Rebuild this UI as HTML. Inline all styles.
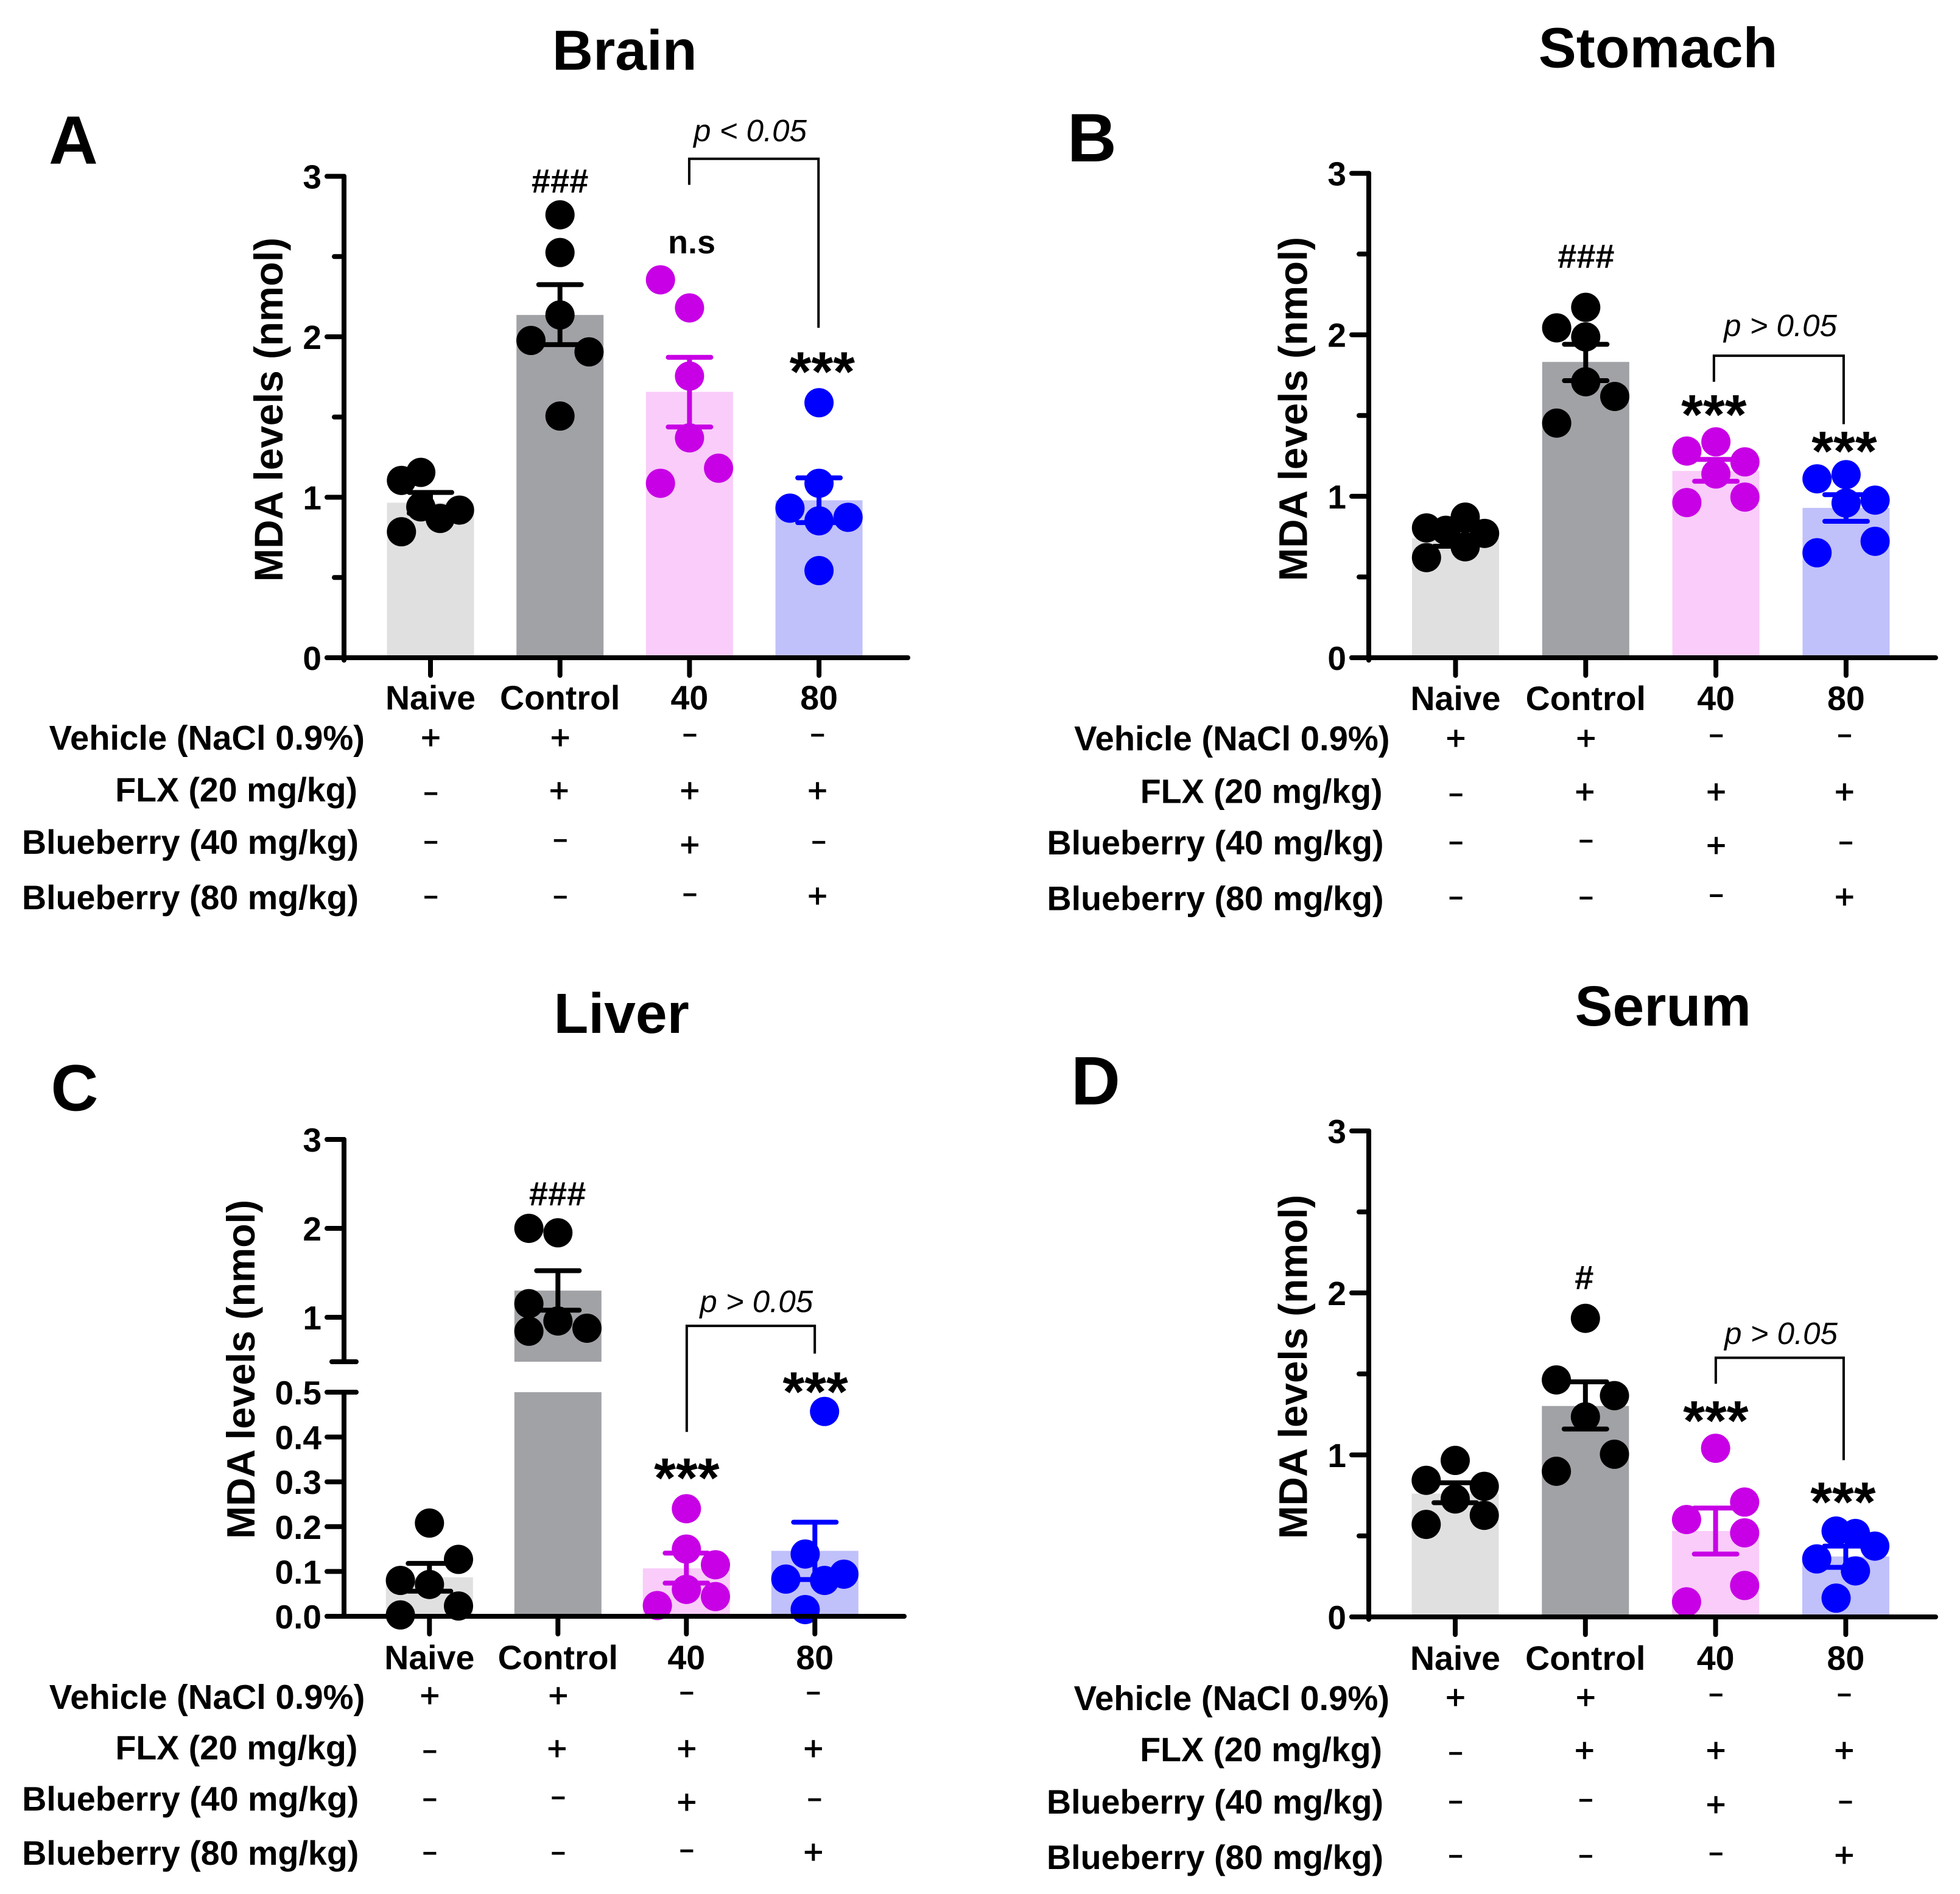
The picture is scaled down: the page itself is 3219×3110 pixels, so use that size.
<!DOCTYPE html>
<html lang="en">
<head>
<meta charset="utf-8">
<title>MDA levels by tissue</title>
<style>
html,body{margin:0;padding:0;background:#fff;}
svg{display:block;}
text{font-family:"Liberation Sans",Arial,sans-serif;fill:#000;}
</style>
</head>
<body>
<svg id="figure" xmlns="http://www.w3.org/2000/svg" width="3219" height="3110" viewBox="0 0 3219 3110"></svg>
<script>
// ---- shared categories and ticks ----
const categories = ['Naive', 'Control', '40', '80'];
const rowLabels = ['Vehicle (NaCl 0.9%)', 'FLX (20 mg/kg)', 'Blueberry (40 mg/kg)', 'Blueberry (80 mg/kg)'];
const vehicleSigns = ['+', '+', '-', '-'];
const flxSigns = ['-', '+', '+', '+'];
const blue40Signs = ['-', '-', '+', '-'];
const blue80Signs = ['-', '-', '-', '+'];
const stdMajorTicks = [0, 1, 2, 3];
const stdMinorTicks = [0.5, 1.5, 2.5];
const liverLowerTicks = [0, 0.1, 0.2, 0.3, 0.4, 0.5];
const liverLowerLabels = ['0.0', '0.1', '0.2', '0.3', '0.4', '0.5'];
const liverUpperTicks = [1, 2, 3];
const liverUpperLabels = ['1', '2', '3'];

// ---- Brain ----
const brainMeans = [0.966, 2.136, 1.657, 0.981];
const brainUpper = [1.03, 2.325, 1.872, 1.121];
const brainLower = [0.90, 1.951, 1.438, 0.842];
const brainNaive = [1.105, 1.155, 0.94, 0.868, 0.92, 0.785];
const brainControl = [2.76, 2.525, 2.136, 1.977, 1.906, 1.506];
const brain40 = [2.355, 2.18, 1.755, 1.37, 1.181, 1.087];
const brain80 = [1.589, 1.087, 0.932, 0.875, 0.853, 0.543];
const brainSlots = [[-3, -1, -1, 1, 3, -3], [0, 0, 0, -3, 3, 0], [-3, 0, 0, 0, 3, -3], [0, 0, -3, 3, 0, 0]];

// ---- Stomach ----
const stomachMeans = [0.74, 1.832, 1.157, 0.928];
const stomachUpper = [0.79, 1.941, 1.228, 1.01];
const stomachLower = [0.69, 1.716, 1.093, 0.845];
const stomachNaive = [0.804, 0.789, 0.871, 0.77, 0.687, 0.62];
const stomachControl = [2.17, 2.043, 1.987, 1.709, 1.618, 1.453];
const stomach40 = [1.337, 1.28, 1.213, 1.138, 0.961, 0.995];
const stomach80 = [1.134, 1.108, 0.976, 0.958, 0.721, 0.65];
const stomachSlots = [[-3, -1, 1, 3, 1, -3], [0, -3, 0, 0, 3, -3], [0, -3, 3, 0, -3, 3], [0, -3, 3, 0, 3, -3]];

// ---- Liver ----
const liverMeans = [0.087, 1.30, 0.107, 0.146];
const liverUpper = [0.118, 1.524, 0.141, 0.21];
const liverLower = [0.056, 1.08, 0.074, 0.082];
const liverNaive = [0.208, 0.127, 0.08, 0.071, 0.023, 0.003];
const liverControl = [2.0, 1.95, 1.153, 0.958, 0.843, 0.877];
const liver40 = [0.24, 0.15, 0.115, 0.06, 0.044, 0.024];
const liver80 = [0.457, 0.139, 0.094, 0.08, 0.083, 0.015];
const liverSlots = [[0, 3, -3, 0, 3, -3], [-3, 0, -3, 0, -3, 3], [0, 0, 3, 0, 3, -3], [1, -1, 3, 1, -3, -1]];

// ---- Serum ----
const serumMeans = [0.761, 1.302, 0.53, 0.373];
const serumUpper = [0.828, 1.451, 0.672, 0.437];
const serumLower = [0.705, 1.16, 0.388, 0.306];
const serumNaive = [0.966, 0.843, 0.806, 0.728, 0.627, 0.571];
const serumControl = [1.843, 1.463, 1.366, 1.235, 1.004, 0.899];
const serum40 = [1.041, 0.709, 0.601, 0.519, 0.194, 0.093];
const serum80 = [0.53, 0.515, 0.437, 0.358, 0.284, 0.116];
const serumSlots = [[0, -3, 3, 0, 3, -3], [0, -3, 3, 0, 3, -3], [0, 3, -3, 3, 3, -3], [-1, 1, 3, -3, 1, -1]];

const signTable = [vehicleSigns, flxSigns, blue40Signs, blue80Signs];
const signNudge = [[0, 0, -4, -4], [5, 0, 0, 0], [0, -3, 4, 0], [0, 0, -4, -2]];
const signShiftX = [[0, 0, 0, -3], [0, -2, 0, -3], [0, 0, 0, -1], [0, 0, 0, -3]];
const rowFontSizes = [56.2, 55.5, 55.6, 55.6];
const barColors = ['#e0e0e0', '#a1a2a6', '#f9ccf9', '#c0c0fb'];
const dotColors = ['#000000', '#000000', '#c800e6', '#0000ff'];
const slotPx = 15.9;
const dotRadius = 24;
const barWidth = 143;
const capHalf = 35;

const NS = 'http://www.w3.org/2000/svg';
const root = document.getElementById('figure');

function add(parent, tag, attrs, text) {
  const n = document.createElementNS(NS, tag);
  for (const k in attrs) n.setAttribute(k, attrs[k]);
  if (text !== undefined) n.textContent = text;
  parent.appendChild(n);
  return n;
}

function linearScale(y0, yTop, vTop) {
  return function (v) { return y0 - (v / vTop) * (y0 - yTop); };
}

function drawPanel(p) {
  const k = p.slug;
  const px = function (c) { return p.ox + p.kx * c; };
  const py = function (c) { return p.oy + p.ky * c; };
  const xBand = function (i) { return p.bar0 + i * p.step; };
  const y = p.scale;

  const g = add(root, 'g', {});
  
  

  let el = add(g, 'text', { x: px(p.title[1]), y: py(p.title[2]) + 33, 'text-anchor': 'middle', 'font-size': 93, 'font-weight': 'bold' }, p.title[0]);
  
  

  el = add(g, 'text', { x: px(p.letter[1]), y: py(p.letter[2]) + 40, 'text-anchor': 'middle', 'font-size': p.letterSize, 'font-weight': 'bold' }, p.letter[0]);
  
  

  const tx = px(p.yTitle[0]);
  const ty = py(p.yTitle[1]);
  el = add(g, 'text', { transform: 'translate(' + tx + ',' + ty + ') rotate(-90)', 'text-anchor': 'middle', 'font-size': p.yTitleSize, 'font-weight': 'bold', y: 23 }, 'MDA levels (nmol)');
  
  

  // bars
  p.means.forEach(function (m, i) {
    const cx = xBand(i);
    if (p.broken && m > 0.5) {
      let r = add(g, 'rect', { x: cx - barWidth / 2, y: y(0.5), width: barWidth, height: p.y0 - y(0.5), fill: barColors[i] });
      
      
      r = add(g, 'rect', { x: cx - barWidth / 2, y: y(m), width: barWidth, height: p.breakY - y(m), fill: barColors[i] });
      
      
    } else {
      const r = add(g, 'rect', { x: cx - barWidth / 2, y: y(m), width: barWidth, height: p.y0 - y(m), fill: barColors[i] });
      
      
    }
  });

  // dots
  p.dots.forEach(function (series, i) {
    series.forEach(function (v, j) {
      const c = add(g, 'circle', { cx: xBand(i) + p.slots[i][j] * slotPx, cy: y(v), r: dotRadius, fill: dotColors[i] });
      
      
    });
  });

  // error bars
  p.means.forEach(function (m, i) {
    const cx = xBand(i);
    const yU = y(p.upper[i]);
    const yL = y(p.lower[i]);
    const eg = add(g, 'path', {
      d: 'M' + (cx - capHalf) + ' ' + yU + 'H' + (cx + capHalf) + 'M' + cx + ' ' + yU + 'V' + yL + 'M' + (cx - capHalf) + ' ' + yL + 'H' + (cx + capHalf),
      fill: 'none', stroke: dotColors[i], 'stroke-width': 8, 'stroke-linecap': 'round'
    });
    
    
  });

  // axes
  const axisStyle = { fill: 'none', stroke: '#000', 'stroke-width': 8, 'stroke-linecap': 'round' };
  let d;
  if (p.broken) {
    d = 'M' + p.axisX + ' ' + p.y0 + 'V' + y(0.5) + 'M' + p.axisX + ' ' + p.breakY + 'V' + y(3);
    d += 'M' + (p.axisX - 20) + ' ' + y(0.5) + 'H' + (p.axisX + 20);
    d += 'M' + (p.axisX - 20) + ' ' + p.breakY + 'H' + (p.axisX + 20);
  } else {
    d = 'M' + p.axisX + ' ' + (p.y0 + 4) + 'V' + y(3);
  }
  el = add(g, 'path', Object.assign({ d: d }, axisStyle));
  
  

  el = add(g, 'path', Object.assign({ d: 'M' + (p.axisX - 28) + ' ' + p.y0 + 'H' + p.right }, axisStyle));
  
  

  p.majorTicks.forEach(function (v, i) {
    const t = add(g, 'path', Object.assign({ d: 'M' + (p.axisX - 28) + ' ' + y(v) + 'H' + p.axisX }, axisStyle));
    
    
    const l = add(g, 'text', { x: p.axisX - 37, y: y(v) + 20, 'text-anchor': 'end', 'font-size': 55, 'font-weight': 'bold' }, p.majorLabels[i]);
    
    
  });
  p.minorTicks.forEach(function (v) {
    const t = add(g, 'path', Object.assign({ d: 'M' + (p.axisX - 16) + ' ' + y(v) + 'H' + p.axisX }, axisStyle));
    
    
  });

  categories.forEach(function (c, i) {
    const t = add(g, 'path', Object.assign({ d: 'M' + xBand(i) + ' ' + p.y0 + 'V' + (p.y0 + 29) }, axisStyle));
    
    
    const l = add(g, 'text', { x: xBand(i), y: p.y0 + p.catDy, 'text-anchor': 'middle', 'font-size': 55.5, 'font-weight': 'bold' }, c);
    
    
  });

  // treatment table
  rowLabels.forEach(function (label, r) {
    const anchors = [-108, -120, -118, -118];
    const l = add(g, 'text', { x: p.bar0 + anchors[r] + p.rowShift, y: p.y0 + p.rowDy[r], 'text-anchor': 'end', 'font-size': rowFontSizes[r], 'font-weight': 'bold' }, label);
    
    
    signTable[r].forEach(function (s, i) {
      const base = p.y0 + p.signDy[r] + signNudge[r][i];
      const plus = s === '+';
      const sx = xBand(i) + signShiftX[r][i] + 0.5;
      const attrs = { x: sx, y: base + (plus ? 19 : 14), 'text-anchor': 'middle', 'font-size': plus ? 56 : 42, 'font-weight': plus ? 'normal' : 'bold' };
      if (plus) {
        attrs.stroke = '#000';
        attrs['stroke-width'] = 1;
      }
      const t = add(g, 'text', attrs, plus ? '+' : '\u2212');
      
      
    });
  });

  // bracket
  const b = p.bracket;
  el = add(g, 'path', { d: 'M' + px(b[0]) + ' ' + py(b[3]) + 'V' + py(b[2]) + 'H' + px(b[1]) + 'V' + py(b[4]), fill: 'none', stroke: '#000', 'stroke-width': 4 });
  
  
  el = add(g, 'text', { x: px(b[5]), y: py(b[6]) - 2, 'text-anchor': 'middle', 'font-size': 51, 'font-style': 'italic' }, b[7]);
  
  

  // significance marks
  p.marks.forEach(function (m) {
    const star = m[0] === '***';
    const fs = star ? 92 : (m[0] === 'n.s' ? 54 : 56);
    const dy = star ? 43 : (m[0] === 'n.s' ? 15 : 18);
    const t = add(g, 'text', { x: px(m[1]), y: py(m[2]) + dy, 'text-anchor': 'middle', 'font-size': fs, 'font-weight': 'bold' }, m[0]);
    
    
  });
}

const A0 = 1080, B0 = 1080, C0 = 2654, D0 = 2655;

drawPanel({
  slug: 'brain', ox: 0, oy: 0, kx: 1.0207, ky: 0.995, axisX: 565, y0: A0, right: 1491, bar0: 707, step: 212.7,
  scale: linearScale(A0, 289.5, 3), means: brainMeans, upper: brainUpper, lower: brainLower,
  dots: [brainNaive, brainControl, brain40, brain80], slots: brainSlots,
  majorTicks: stdMajorTicks, majorLabels: stdMajorTicks.map(String), minorTicks: stdMinorTicks,
  title: ['Brain', 1005, 82], letter: ['A', 118, 230], letterSize: 112, yTitle: [432, 676], yTitleSize: 65.5,
  catDy: 85, rowDy: [151, 236, 322, 413], rowShift: 0, signDy: [131, 218, 303, 393],
  bracket: [1109, 1317, 262, 305, 541, 1207, 235, 'p < 0.05'],
  marks: [['###', 901, 300], ['n.s', 1113, 403], ['***', 1323, 602]]
});

drawPanel({
  slug: 'stomach', ox: 1620, oy: 0, kx: 1.0195, ky: 0.995, axisX: 2248, y0: B0, right: 3179, bar0: 2390.5, step: 213.8,
  scale: linearScale(B0, 284.6, 3), means: stomachMeans, upper: stomachUpper, lower: stomachLower,
  dots: [stomachNaive, stomachControl, stomach40, stomach80], slots: stomachSlots,
  majorTicks: stdMajorTicks, majorLabels: stdMajorTicks.map(String), minorTicks: stdMinorTicks,
  title: ['Stomach', 1082, 78], letter: ['B', 170, 226], letterSize: 112, yTitle: [494, 675], yTitleSize: 65.5,
  catDy: 86, rowDy: [152, 238.5, 323, 414.6], rowShift: 0, signDy: [132, 220, 304, 394.6],
  bracket: [1172, 1381, 587, 630, 700, 1279, 557, 'p > 0.05'],
  marks: [['###', 966, 424], ['***', 1172, 673], ['***', 1382, 733]]
});

const liverBreakY = 2236;
function liverScale(v) {
  return v <= 0.5 ? C0 - v * 736 : liverBreakY - (v - 0.5) * 146;
}

drawPanel({
  slug: 'liver', ox: 0, oy: 1560, kx: 1.0207, ky: 0.989, axisX: 565, y0: C0, right: 1485, bar0: 705.3, step: 211,
  scale: liverScale, broken: true, breakY: liverBreakY, means: liverMeans, upper: liverUpper, lower: liverLower,
  dots: [liverNaive, liverControl, liver40, liver80], slots: liverSlots,
  majorTicks: liverLowerTicks.concat(liverUpperTicks), majorLabels: liverLowerLabels.concat(liverUpperLabels), minorTicks: [],
  title: ['Liver', 1000, 104], letter: ['C', 120, 226], letterSize: 108, yTitle: [387, 696], yTitleSize: 64.5,
  catDy: 87, rowDy: [152, 235, 319, 408], rowShift: 2, signDy: [130, 217, 301, 389],
  bracket: [1105, 1311, 624, 800, 670, 1217, 603, 'p > 0.05'],
  marks: [['###', 897, 406], ['***', 1105, 865], ['***', 1312, 722]]
});

drawPanel({
  slug: 'serum', ox: 1620, oy: 1560, kx: 1.0195, ky: 0.989, axisX: 2248, y0: D0, right: 3179, bar0: 2390, step: 213.8,
  scale: linearScale(D0, 1857, 3), means: serumMeans, upper: serumUpper, lower: serumLower,
  dots: [serumNaive, serumControl, serum40, serum80], slots: serumSlots,
  majorTicks: stdMajorTicks, majorLabels: stdMajorTicks.map(String), minorTicks: stdMinorTicks,
  title: ['Serum', 1090, 92], letter: ['D', 176, 216], letterSize: 112, yTitle: [494, 692], yTitleSize: 65.5,
  catDy: 87, rowDy: [153, 237, 323, 414], rowShift: 0, signDy: [132, 219, 304, 393],
  bracket: [1175, 1381, 677, 720, 847, 1280, 656, 'p > 0.05'],
  marks: [['#', 963, 545], ['***', 1175, 770], ['***', 1380, 905]]
});
</script>
</body>
</html>
